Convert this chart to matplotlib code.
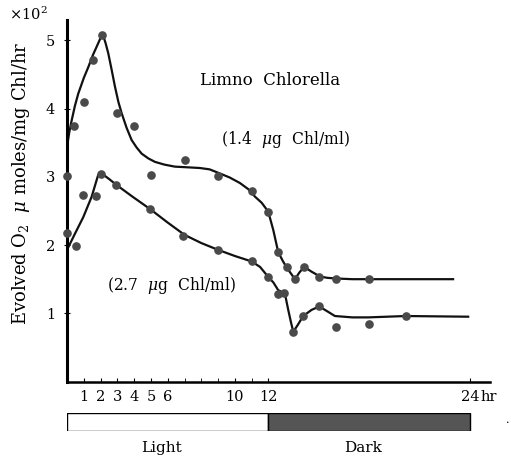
import matplotlib
matplotlib.use("Agg")
import matplotlib.pyplot as plt

plt.rcParams["font.family"] = ["DejaVu Serif"]
plt.rcParams["mathtext.fontset"] = "dejavuserif"

# measured points, 1.4 ug Chl/ml
t_low = [0, 0.42, 1.0, 1.57, 2.07, 3.0, 4.0, 5.0, 7.0, 9.0, 11.0, 12.0,
         12.55, 13.1, 13.6, 14.1, 15.0, 16.05, 18.0]
o2_low = [3.01, 3.75, 4.10, 4.71, 5.08, 3.94, 3.75, 3.03, 3.25, 3.02, 2.80,
          2.49, 1.90, 1.68, 1.50, 1.68, 1.53, 1.51, 1.50]

# measured points, 2.7 ug Chl/ml
t_high = [0, 0.54, 0.97, 1.71, 2.02, 2.92, 4.94, 6.93, 9.0, 11.0, 12.0,
          12.55, 12.94, 13.48, 14.07, 15.03, 16.02, 18.0, 20.17]
o2_high = [2.17, 1.98, 2.73, 2.72, 3.04, 2.88, 2.53, 2.14, 1.93, 1.76, 1.53,
           1.29, 1.30, 0.72, 0.96, 1.10, 0.80, 0.84, 0.96]

# hand drawn fitted curves
curve_low_t = [0, 0.14, 0.28, 0.47, 0.67, 1.0, 1.27, 1.55, 1.77, 1.95, 2.07,
               2.17, 2.3, 2.46, 2.66, 2.86, 3.06, 3.26, 3.55, 3.85, 4.15,
               4.45, 4.85, 5.24, 5.8, 6.43, 7.2, 7.92, 8.5, 9.11, 9.7, 10.3,
               10.8, 11.2, 11.6, 11.99, 12.29, 12.58, 12.85, 13.09, 13.35,
               13.58, 13.85, 14.13, 14.57, 15.07, 15.5, 16.06, 17.0, 17.95,
               20.0, 23.0]
curve_low = [3.44, 3.66, 3.83, 4.04, 4.22, 4.45, 4.61, 4.79, 4.91, 5.01, 5.08,
             5.06, 4.96, 4.81, 4.57, 4.32, 4.10, 3.93, 3.72, 3.54, 3.43,
             3.34, 3.27, 3.22, 3.18, 3.15, 3.14, 3.13, 3.11, 3.05, 2.99, 2.91,
             2.82, 2.71, 2.62, 2.49, 2.22, 1.90, 1.77, 1.67, 1.58,
             1.50, 1.60, 1.68, 1.61, 1.54, 1.52, 1.51, 1.50, 1.50,
             1.50, 1.50]

curve_high_t = [0, 0.48, 0.97, 1.47, 1.86, 2.07, 2.5, 2.96, 3.9, 4.94, 6.0,
                7.0, 8.0, 9.0, 10.0, 11.0, 11.5, 12.0, 12.3, 12.58, 12.98,
                13.18, 13.35, 13.48, 13.75, 14.07, 14.57, 15.03, 15.5, 15.96,
                17.0, 17.95, 20.17, 23.9]
curve_high = [1.93, 2.17, 2.41, 2.71, 3.03, 3.05, 2.97, 2.88, 2.71, 2.53, 2.33,
              2.15, 2.03, 1.93, 1.84, 1.76, 1.68, 1.53, 1.45, 1.34, 1.29,
              1.05, 0.86, 0.73, 0.83, 0.96, 1.05, 1.10, 1.03, 0.96,
              0.94, 0.94, 0.96, 0.95]

tick_hours = [1, 2, 3, 4, 5, 6, 10, 12, 24]
minor_hours = [7, 8, 9, 11]
y_ticks = [1, 2, 3, 4, 5]

periods = ["Light", "Dark"]
period_start = [0, 12]
period_end = [12, 24]
period_colors = ["white", "#555555"]

X_MAX = 25.2
Y_MAX = 5.3
W, H = 511, 458


def draw_main(fig):
    ax = fig.add_axes([67 / W, 1 - 381.5 / H, (490 - 67) / W, (381.5 - 20) / H])

    ax.plot(curve_low_t, curve_low, color="#111111", lw=1.6)
    ax.plot(curve_high_t, curve_high, color="#111111", lw=1.6)

    ax.plot(t_low, o2_low, "o", color="#4a4a4a", ms=5.2, clip_on=False, zorder=3)
    ax.plot(t_high, o2_high, "o", color="#4a4a4a", ms=5.2, clip_on=False, zorder=3)

    ax.set_xlim(0, X_MAX)
    ax.set_ylim(0, Y_MAX)

    for side in ["top", "right"]:
        ax.spines[side].set_visible(False)
    ax.spines["left"].set_linewidth(2.2)
    ax.spines["bottom"].set_linewidth(1.8)

    ax.set_xticks(tick_hours)
    ax.set_xticklabels([str(h) for h in tick_hours])
    ax.set_xticks(minor_hours, minor=True)
    ax.set_yticks(y_ticks)
    ax.set_yticklabels([str(v) for v in y_ticks])
    ax.tick_params(axis="x", which="both", direction="in", length=3,
                   labelsize=10.5, pad=6)
    ax.tick_params(axis="y", direction="inout", length=5, labelsize=10.5, pad=6)

    ax.text(12.1, 4.42, "Limno  Chlorella", fontsize=12, ha="center", va="center")
    ax.text(13.0, 3.55, r"(1.4  $\mu$g  Chl/ml)", fontsize=11.2,
            ha="center", va="center")
    ax.text(6.2, 1.41, r"(2.7  $\mu$g  Chl/ml)", fontsize=11.2,
            ha="center", va="center")
    return ax


def draw_light_bar(fig):
    ax = fig.add_axes([67 / W, 1 - 431 / H, (490 - 67) / W, (431 - 412.7) / H])
    for name, start, end, col in zip(periods, period_start, period_end, period_colors):
        ax.barh(0, end - start, left=start, height=1, color=col,
                edgecolor="black", linewidth=1.0)
        ax.text((start + end) / 2 - 0.35, -1.45, name, fontsize=11,
                ha="center", va="center", clip_on=False)
    ax.set_xlim(0, X_MAX)
    ax.set_ylim(-0.5, 0.5)
    ax.axis("off")
    return ax


if __name__ == "__main__":
    fig = plt.figure(figsize=(W / 100, H / 100), dpi=100)

    draw_main(fig)
    draw_light_bar(fig)

    fig.text(21 / W, 1 - 183 / H, r"Evolved O$_2$  $\mu$ moles/mg Chl/hr",
             rotation=90, fontsize=13, ha="center", va="center")
    fig.text(28 / W, 1 - 14 / H, r"$\times$10$^2$", fontsize=10.5,
             ha="center", va="center")
    fig.text(489 / W, 1 - 397 / H, "hr", fontsize=10.5, ha="center", va="center")
    fig.text(508 / W, 1 - 420 / H, ".", fontsize=8, ha="center", va="center")

    fig.savefig("out.png", dpi=100)
